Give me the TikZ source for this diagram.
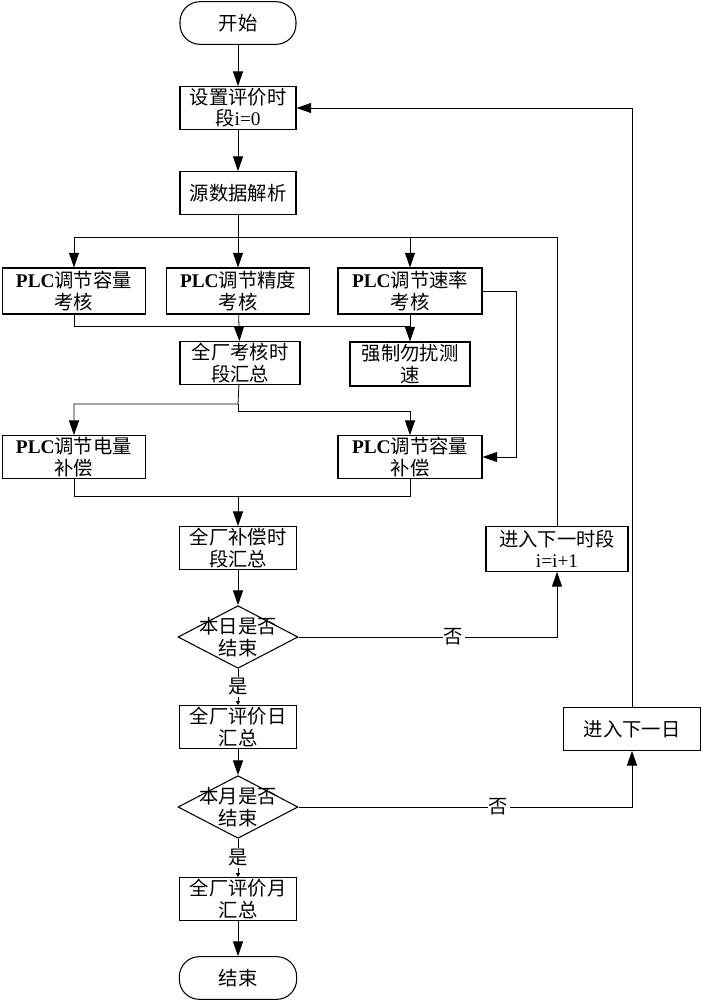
\documentclass[tikz,border=0pt]{standalone}
\usepackage{fontspec}
\setmainfont{Noto Sans CJK SC}
\newfontfamily\latin{Liberation Serif}
\usetikzlibrary{arrows.meta,positioning,shapes.geometric}

\begin{document}
\begin{tikzpicture}[x=0.75pt,y=-0.75pt,>={Triangle[length=11pt,width=7.5pt]},line width=0.6pt,font=\fontsize{14.5}{16}\selectfont]
	\useasboundingbox (0,0) rectangle (702,1000);
	\tikzset{every node/.style={align=center,inner sep=0.5pt}}
	\tikzset{blk/.style={draw,rectangle,minimum height=32pt,line width=0.8pt}}
	\tikzset{term/.style={blk,rounded corners=15pt}}
	\tikzset{dia/.style={draw,diamond,minimum width=90pt,minimum height=47pt,inner sep=0pt,line width=0.8pt}}
	\tikzset{lbl/.style={fill=white,inner sep=1pt}}
	\tikzset{tiny/.style={-{Triangle[length=3pt,width=3pt]}}}
	
	\node[term,minimum width=87pt] (start) at (238,23) {开始};
	\node[blk,minimum width=87pt] (set) at (238,108) {设置评价时\\段{\latin i=0}};
	\node[blk,minimum width=87pt] (parse) at (238,193) {源数据解析};
	\node[blk,minimum width=107pt,minimum height=34.5pt] (capA) at (74,291) {{\latin\bfseries PLC}调节容量\\考核};
	\node[blk,minimum width=107pt,minimum height=34.5pt] (capB) at (238,291) {{\latin\bfseries PLC}调节精度\\考核};
	\node[blk,minimum width=108pt,minimum height=34.5pt] (capC) at (410,291) {{\latin\bfseries PLC}调节速率\\考核};
	\node[blk,minimum width=90pt] (sumA) at (240,363) {全厂考核时\\段汇总};
	\node[blk,minimum width=90pt,minimum height=33pt] (quiet) at (410,364) {强制勿扰测\\速};
	\node[blk,minimum width=107pt] (comp1) at (74,457) {{\latin\bfseries PLC}调节电量\\补偿};
	\node[blk,minimum width=108pt] (comp2) at (410,457) {{\latin\bfseries PLC}调节容量\\补偿};
	\node[blk,minimum width=88pt] (sumC) at (238,548) {全厂补偿时\\段汇总};
	\node[dia] (dec1) at (238,637) {};
	\node (dec1txt) at (dec1) {本日是否\\结束};
	\node[blk,minimum width=106.5pt,minimum height=33.5pt] (next) at (557,549) {进入下一时段\\{\latin i=i+1}};
	\node[blk,minimum width=88pt] (day) at (238,727) {全厂评价日\\汇总};
	\node[dia] (dec2) at (238,807) {};
	\node (dec2txt) at (dec2) {本月是否\\结束};
	\node[blk,minimum width=103pt] (nextday) at (632,729) {进入下一日};
	\node[blk,minimum width=88pt] (month) at (238,899) {全厂评价月\\汇总};
	\node[term,minimum width=88pt] (end) at (238,978) {结束};
	
	\coordinate (bus) at (238,237);
	\coordinate (bus2) at (238,326);
	\coordinate (fork1) at (238,404);
	\coordinate (fork2) at (238,411);
	\coordinate (bus3) at (238,496);
	
	\draw[->] (start) -- (set);
	\draw[->] (set) -- (parse);
	\draw[->] (parse) -- (capB);
	\draw[->] (next) -- (next |- bus) -| (capA);
	\draw[->] (bus -| capC) -- (capC);
	\draw (capA) |- (bus2 -| quiet);
	\draw[->] (capB) -- (sumA);
	\draw[->] (capC) -- (quiet);
	\draw[->] (sumA) -- (fork1) -| (comp1);
	\draw[->] (fork1) -- (fork2) -| (comp2);
	\draw[->] (capC.east) -- ++(34,0) |- (comp2.east);
	\draw (comp1) |- (bus3 -| comp2) -- (comp2);
	\draw[->] (bus3) -- (sumC);
	\draw[->] (sumC) -- (dec1);
	\draw[->] (dec1.east) -- node[lbl,pos=0.6] {否} (dec1.east -| next) -- (next);
	\draw[tiny] (dec1) -- node[lbl] {是} (day);
	\draw[->] (day) -- (dec2);
	\draw[->] (dec2.east) -- node[lbl,pos=0.6] {否} (dec2.east -| nextday) -- (nextday);
	\draw[->] (nextday) |- (set);
	\draw[tiny] (dec2) -- node[lbl] {是} (month);
	\draw[->] (month) -- (end);
\end{tikzpicture}
\end{document}
